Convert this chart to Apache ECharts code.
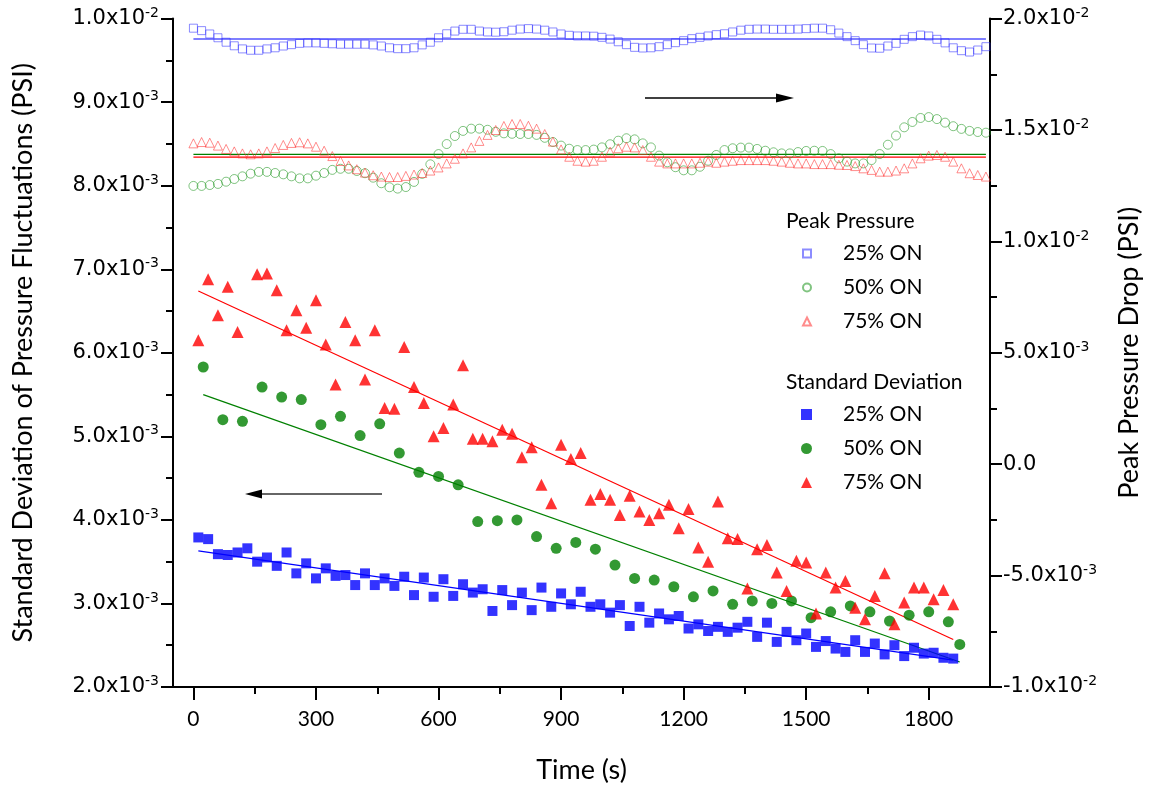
<!DOCTYPE html>
<html>
<head>
<meta charset="utf-8">
<script src="https://cdn.jsdelivr.net/npm/echarts@6/dist/echarts.min.js"></script>
<style>
html,body{margin:0;padding:0;background:#fff;}
#chart{width:1154px;height:791px;}
</style>
</head>
<body>
<div id="chart"></div>
<script>
// ---------- tick values ----------
const xMajorTicks = [0, 300, 600, 900, 1200, 1500, 1800];
const xMinorTicks = [150, 450, 750, 1050, 1350, 1650];

// ---------- Standard deviation (left axis) ----------
const sdTime = [12,36,60,84,108,132,156,180,204,228,252,276,300,324,348,372,396,420,444,468,492,516,540,564,588,612,636,660,684,708,732,756,780,804,828,852,876,900,924,948,972,996,1020,1044,1068,1092,1116,1140,1164,1188,1212,1236,1260,1284,1308,1332,1356,1380,1404,1428,1452,1476,1500,1524,1548,1572,1596,1620,1644,1668,1692,1716,1740,1764,1788,1812,1836,1860];
const sdBlue = [0.00379,0.00377,0.00359,0.00358,0.00361,0.00366,0.00350,0.00355,0.00345,0.00361,
0.00336,0.00348,0.00330,0.00342,0.00333,0.00334,0.00322,0.00336,0.00322,0.00330,
0.00321,0.00332,0.00310,0.00331,0.00308,0.00329,0.00309,0.00323,0.00313,0.00317,
0.00291,0.00316,0.00298,0.00313,0.00292,0.00319,0.00296,0.00312,0.00299,0.00314,
0.00296,0.00299,0.00289,0.00298,0.00273,0.00296,0.00277,0.00288,0.00281,0.00285,
0.00270,0.00275,0.00267,0.00272,0.00266,0.00271,0.00278,0.00260,0.00277,0.00254,
0.00266,0.00256,0.00264,0.00248,0.00255,0.00246,0.00242,0.00256,0.00242,0.00252,
0.00239,0.00250,0.00237,0.00247,0.00240,0.00241,0.00235,0.00234];

const sdRedTime = [12,36,60,84,108,156,180,204,228,252,276,300,324,348,372,396,420,444,468,492,516,540,564,588,612,636,660,684,708,732,756,780,804,828,852,876,900,924,948,972,996,1020,1044,1068,1092,1116,1140,1164,1188,1212,1236,1260,1284,1308,1332,1356,1380,1404,1428,1452,1476,1500,1524,1548,1572,1596,1620,1644,1668,1692,1716,1740,1764,1788,1812,1836,1860];
const sdRed = [0.00615,0.00688,0.00645,0.00679,0.00625,0.00694,0.00695,0.00675,0.00627,0.00651,
0.00630,0.00663,0.00610,0.00562,0.00637,0.00615,0.00568,0.00627,0.00534,0.00533,
0.00607,0.00559,0.00540,0.00500,0.00510,0.00538,0.00585,0.00497,0.00497,0.00494,
0.00508,0.00503,0.00475,0.00487,0.00442,0.00420,0.00490,0.00473,0.00480,0.00424,
0.00431,0.00424,0.00406,0.00429,0.00410,0.00400,0.00408,0.00418,0.00390,0.00413,
0.00367,0.00350,0.00422,0.00378,0.00377,0.00318,0.00365,0.00370,0.00337,0.00315,
0.00351,0.00349,0.00288,0.00337,0.00319,0.00327,0.00295,0.00281,0.00309,0.00336,
0.00275,0.00301,0.00319,0.00319,0.00305,0.00316,0.00299];

const sdGreenTime = [24,72,120,168,216,264,312,360,408,456,504,552,600,648,696,744,792,840,888,936,984,1032,1080,1128,1176,1224,1272,1320,1368,1416,1464,1512,1560,1608,1656,1704,1752,1800,1848,1876];
const sdGreen = [0.00583,0.00520,0.00518,0.00559,0.00547,0.00544,0.00514,0.00524,0.00501,0.00515,
0.00480,0.00457,0.00452,0.00442,0.00398,0.00399,0.00400,0.00380,0.00366,0.00373,
0.00365,0.00346,0.00330,0.00328,0.00320,0.00308,0.00315,0.00299,0.00303,0.00300,
0.00303,0.00283,0.00290,0.00297,0.00290,0.00279,0.00286,0.00290,0.00278,0.00251];

// ---------- Peak pressure (right axis) ----------
const peakTime = [0,20,40,60,80,100,120,140,160,180,200,220,240,260,280,300,320,340,360,380,400,420,440,460,480,500,520,540,560,580,600,620,640,660,680,700,720,740,760,780,800,820,840,860,880,900,920,940,960,980,1000,1020,1040,1060,1080,1100,1120,1140,1160,1180,1200,1220,1240,1260,1280,1300,1320,1340,1360,1380,1400,1420,1440,1460,1480,1500,1520,1540,1560,1580,1600,1620,1640,1660,1680,1700,1720,1740,1760,1780,1800,1820,1840,1860,1880,1900,1920,1940];
const peakBlue = [0.01957,0.01946,0.01931,0.01914,0.01894,0.01878,0.01864,0.01858,0.01858,0.01864,
0.01869,0.01877,0.01883,0.01889,0.01891,0.01891,0.01889,0.01887,0.01885,0.01885,
0.01885,0.01885,0.01882,0.01877,0.01869,0.01865,0.01865,0.01869,0.01882,0.01894,
0.01914,0.01932,0.01944,0.01952,0.01952,0.01944,0.01940,0.01939,0.01941,0.01948,
0.01953,0.01955,0.01953,0.01948,0.01940,0.01931,0.01925,0.01922,0.01922,0.01921,
0.01916,0.01908,0.01896,0.01883,0.01871,0.01868,0.01869,0.01874,0.01883,0.01892,
0.01901,0.01910,0.01916,0.01922,0.01928,0.01932,0.01940,0.01948,0.01952,0.01953,
0.01953,0.01952,0.01952,0.01952,0.01953,0.01955,0.01957,0.01957,0.01950,0.01935,
0.01919,0.01901,0.01883,0.01868,0.01867,0.01877,0.01889,0.01907,0.01919,0.01926,
0.01922,0.01907,0.01891,0.01869,0.01856,0.01850,0.01859,0.01874];
const peakGreen = [0.01249,0.01249,0.01253,0.01258,0.01268,0.01280,0.01292,0.01304,0.01312,0.01312,
0.01307,0.01301,0.01292,0.01283,0.01283,0.01295,0.01307,0.01321,0.01326,0.01326,
0.01316,0.01306,0.01286,0.01261,0.01243,0.01237,0.01244,0.01267,0.01303,0.01346,
0.01392,0.01437,0.01473,0.01496,0.01506,0.01506,0.01501,0.01492,0.01485,0.01483,
0.01482,0.01482,0.01478,0.01465,0.01446,0.01430,0.01416,0.01410,0.01410,0.01412,
0.01422,0.01436,0.01452,0.01463,0.01458,0.01440,0.01422,0.01385,0.01355,0.01333,
0.01319,0.01319,0.01335,0.01362,0.01388,0.01410,0.01418,0.01421,0.01421,0.01415,
0.01407,0.01400,0.01395,0.01395,0.01401,0.01406,0.01407,0.01406,0.01392,0.01373,
0.01358,0.01350,0.01350,0.01365,0.01392,0.01434,0.01475,0.01512,0.01536,0.01554,
0.01558,0.01549,0.01533,0.01517,0.01505,0.01496,0.01491,0.01488];
const peakRed = [0.01440,0.01446,0.01443,0.01430,0.01415,0.01404,0.01395,0.01391,0.01395,0.01404,
0.01419,0.01433,0.01442,0.01445,0.01440,0.01425,0.01407,0.01383,0.01361,0.01341,
0.01324,0.01309,0.01297,0.01291,0.01289,0.01289,0.01294,0.01300,0.01307,0.01318,
0.01332,0.01350,0.01371,0.01395,0.01422,0.01451,0.01478,0.01500,0.01518,0.01527,
0.01527,0.01519,0.01506,0.01482,0.01448,0.01413,0.01380,0.01362,0.01358,0.01362,
0.01380,0.01403,0.01418,0.01425,0.01422,0.01410,0.01380,0.01358,0.01350,0.01350,
0.01350,0.01350,0.01353,0.01358,0.01353,0.01358,0.01362,0.01365,0.01365,0.01365,
0.01365,0.01362,0.01358,0.01353,0.01350,0.01350,0.01347,0.01347,0.01347,0.01344,
0.01343,0.01338,0.01328,0.01321,0.01313,0.01313,0.01318,0.01328,0.01350,0.01373,
0.01385,0.01388,0.01380,0.01358,0.01328,0.01306,0.01298,0.01291];

// ---------- helpers ----------
function zip(xs, ys) { return xs.map((x, i) => [x, ys[i]]); }
function linFit(xs, ys) {
  const n = xs.length;
  let sx = 0, sy = 0, sxx = 0, sxy = 0;
  for (let i = 0; i < n; i++) { sx += xs[i]; sy += ys[i]; sxx += xs[i] * xs[i]; sxy += xs[i] * ys[i]; }
  const b = (n * sxy - sx * sy) / (n * sxx - sx * sx);
  const a = (sy - b * sx) / n;
  const x0 = Math.min.apply(null, xs), x1 = Math.max.apply(null, xs);
  return [[x0, a + b * x0], [x1, a + b * x1]];
}
function meanLine(xs, ys) {
  const m = ys.reduce((s, v) => s + v, 0) / ys.length;
  const x0 = Math.min.apply(null, xs), x1 = Math.max.apply(null, xs);
  return [[x0, m], [x1, m]];
}
function sciLabel(v) {
  if (Math.abs(v) < 1e-12) return '{b|0.0}';
  const e = Math.floor(Math.log10(Math.abs(v)) + 1e-9);
  const m = (v / Math.pow(10, e)).toFixed(1);
  return '{b|' + m + 'x10}{s|' + e + '}';
}
const TICK_FONT = 'DejaVu Sans';
const tickRich = {
  b: { fontFamily: TICK_FONT, fontSize: 21, color: '#000', lineHeight: 25 },
  s: { fontFamily: TICK_FONT, fontSize: 14, color: '#000', verticalAlign: 'top', lineHeight: 15 }
};
const TITLE_FONT = 'Lato';
const axisLineStyle = { color: '#000', width: 2 };

function lineSeries(name, pts, color, yAxisIndex) {
  return {
    name: name, type: 'line', yAxisIndex: yAxisIndex, data: pts,
    symbol: 'none', silent: true, z: 1,
    lineStyle: { color: color, width: 1.2 }
  };
}

const grid = { left: 173, right: 164, top: 18.6, bottom: 104 };

const option = {
  animation: false,
  backgroundColor: '#fff',
  grid: [Object.assign({}, grid), Object.assign({}, grid)],
  xAxis: [
    {
      type: 'value', gridIndex: 0, position: 'bottom', min: -50, max: 1950,
      name: 'Time (s)', nameLocation: 'middle', nameGap: 70,
      nameTextStyle: { fontFamily: TITLE_FONT, fontSize: 27, color: '#000' },
      axisLine: { show: true, onZero: false, lineStyle: axisLineStyle },
      axisTick: { show: true, inside: false, length: 13, customValues: xMajorTicks, lineStyle: axisLineStyle },
      axisLabel: { customValues: xMajorTicks, margin: 22, fontFamily: TITLE_FONT, fontSize: 21, color: '#000',
                   formatter: v => String(v) },
      splitLine: { show: false }
    },
    {
      type: 'value', gridIndex: 1, position: 'bottom', min: -50, max: 1950,
      axisLine: { show: false },
      axisTick: { show: true, inside: false, length: 7, customValues: xMinorTicks, lineStyle: axisLineStyle },
      axisLabel: { show: false },
      splitLine: { show: false }
    }
  ],
  yAxis: [
    {
      type: 'value', gridIndex: 0, position: 'left', min: 0.002, max: 0.01, interval: 0.001,
      name: 'Standard Deviation of Pressure Fluctuations (PSI)', nameLocation: 'middle', nameGap: 136,
      nameTextStyle: { fontFamily: TITLE_FONT, fontSize: 27, color: '#000' },
      axisLine: { show: true, onZero: false, lineStyle: axisLineStyle },
      axisTick: { show: true, inside: false, length: 12, lineStyle: axisLineStyle },
      minorTick: { show: true, splitNumber: 2, length: 7, lineStyle: axisLineStyle },
      axisLabel: { margin: 14, formatter: sciLabel, rich: tickRich },
      splitLine: { show: false }
    },
    {
      type: 'value', gridIndex: 0, position: 'right', min: -0.01, max: 0.02, interval: 0.005,
      name: 'Peak Pressure Drop (PSI)', nameLocation: 'middle', nameGap: 126,
      nameTextStyle: { fontFamily: TITLE_FONT, fontSize: 27, color: '#000' },
      axisLine: { show: true, onZero: false, lineStyle: axisLineStyle },
      axisTick: { show: true, inside: false, length: 12, lineStyle: axisLineStyle },
      minorTick: { show: true, splitNumber: 2, length: 7, lineStyle: axisLineStyle },
      axisLabel: { margin: 13, formatter: sciLabel, rich: tickRich },
      splitLine: { show: false }
    },
    {
      type: 'value', gridIndex: 1, show: false, min: 0, max: 1
    }
  ],
  legend: [
    {
      data: ['Peak 25% ON', 'Peak 50% ON', 'Peak 75% ON'],
      orient: 'vertical', left: 797, top: 238, itemWidth: 8, itemHeight: 8, itemGap: 13,
      selectedMode: false, formatter: n => n.replace(/^\S+ /, ''),
      textStyle: { fontFamily: TITLE_FONT, fontSize: 21, color: '#000', padding: [0, 0, 0, 27] }
    },
    {
      data: ['SD 25% ON', 'SD 50% ON', 'SD 75% ON'],
      orient: 'vertical', left: 796, top: 399, itemWidth: 11, itemHeight: 11, itemGap: 13,
      selectedMode: false, formatter: n => n.replace(/^\S+ /, ''),
      textStyle: { fontFamily: TITLE_FONT, fontSize: 21, color: '#000', padding: [0, 0, 0, 26] }
    }
  ],
  graphic: [
    { type: 'text', left: 786, top: 211, style: { text: 'Peak Pressure', fontFamily: TITLE_FONT, fontSize: 21, fill: '#000' } },
    { type: 'text', left: 786, top: 372, style: { text: 'Standard Deviation', fontFamily: TITLE_FONT, fontSize: 21, fill: '#000' } },
    { type: 'line', shape: { x1: 645, y1: 98, x2: 780, y2: 98 }, style: { stroke: '#000', lineWidth: 1.4 } },
    { type: 'polygon', shape: { points: [[776, 93.5], [794, 98], [776, 102.5]] }, style: { fill: '#000' } },
    { type: 'line', shape: { x1: 382, y1: 494, x2: 258, y2: 494 }, style: { stroke: '#666', lineWidth: 1.8 } },
    { type: 'polygon', shape: { points: [[262, 489.5], [245, 494], [262, 498.5]] }, style: { fill: '#000' } }
  ],
  series: [
    lineSeries('fit peak 25', meanLine(peakTime, peakBlue), '#0000ff', 1),
    lineSeries('fit peak 50', meanLine(peakTime, peakGreen), '#008000', 1),
    lineSeries('fit peak 75', meanLine(peakTime, peakRed), '#ff0000', 1),
    lineSeries('fit sd 25', linFit(sdTime, sdBlue), '#0000ff', 0),
    lineSeries('fit sd 50', linFit(sdGreenTime, sdGreen), '#008000', 0),
    lineSeries('fit sd 75', linFit(sdRedTime, sdRed), '#ff0000', 0),
    {
      name: 'Peak 25% ON', type: 'scatter', yAxisIndex: 1, data: zip(peakTime, peakBlue),
      symbol: 'rect', symbolSize: 8, z: 2,
      itemStyle: { color: 'rgba(255,255,255,0)', borderColor: 'rgba(50,50,255,0.7)', borderWidth: 1 }
    },
    {
      name: 'Peak 50% ON', type: 'scatter', yAxisIndex: 1, data: zip(peakTime, peakGreen),
      symbol: 'circle', symbolSize: 9, z: 2,
      itemStyle: { color: 'rgba(255,255,255,0)', borderColor: 'rgba(30,150,30,0.7)', borderWidth: 1 }
    },
    {
      name: 'Peak 75% ON', type: 'scatter', yAxisIndex: 1, data: zip(peakTime, peakRed),
      symbol: 'triangle', symbolSize: 9, z: 2,
      itemStyle: { color: 'rgba(255,255,255,0)', borderColor: 'rgba(255,50,50,0.7)', borderWidth: 1 }
    },
    {
      name: 'SD 25% ON', type: 'scatter', yAxisIndex: 0, data: zip(sdTime, sdBlue),
      symbol: 'rect', symbolSize: 10, z: 3,
      itemStyle: { color: '#0000ff' }
    },
    {
      name: 'SD 50% ON', type: 'scatter', yAxisIndex: 0, data: zip(sdGreenTime, sdGreen),
      symbol: 'circle', symbolSize: 11, z: 3,
      itemStyle: { color: '#008000' }
    },
    {
      name: 'SD 75% ON', type: 'scatter', yAxisIndex: 0, data: zip(sdRedTime, sdRed),
      symbol: 'triangle', symbolSize: 12, z: 3,
      itemStyle: { color: '#ff0000' }
    }
  ]
};

const chart = echarts.init(document.getElementById('chart'), null, { renderer: 'canvas' });
chart.setOption(option);
</script>
</body>
</html>
